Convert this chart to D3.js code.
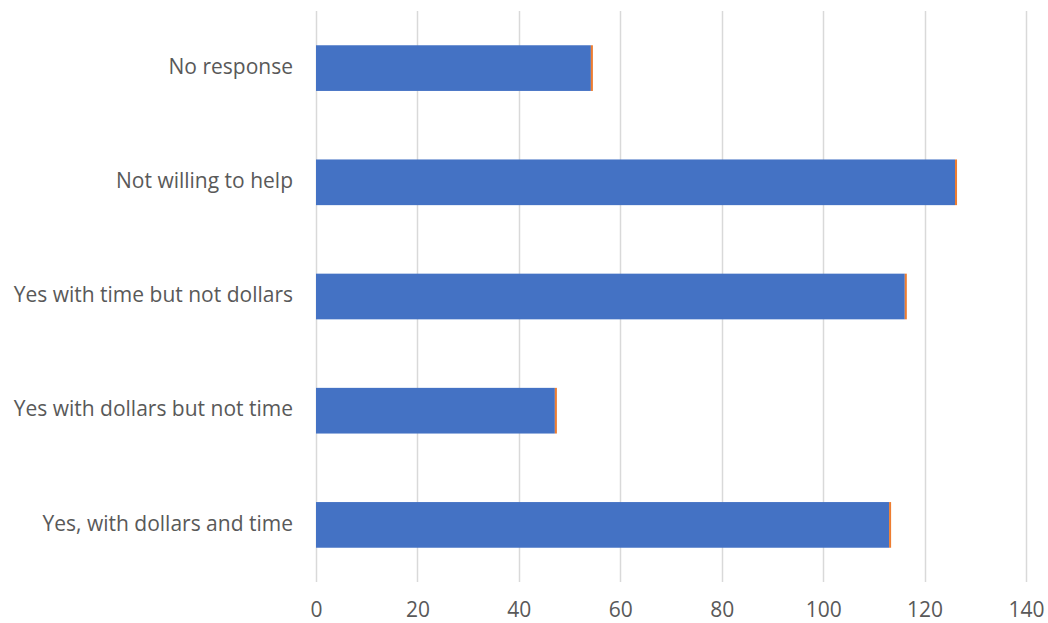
<!DOCTYPE html>
<html>
<head>
<meta charset="utf-8">
<script src="https://cdn.jsdelivr.net/npm/d3@7"></script>
<style>
  html, body { margin: 0; padding: 0; background: #fff; }
  svg { display: block; }
  text { font-family: "Open Sans", "Noto Sans", sans-serif; fill: #595959; }
</style>
</head>
<body>
<svg id="chart" width="1048" height="623"></svg>
<script>
const categories = [
  "No response",
  "Not willing to help",
  "Yes with time but not dollars",
  "Yes with dollars but not time",
  "Yes, with dollars and time"
];
const seriesA = [54.2, 126, 116.1, 47.1, 113];
const seriesB = [0.4, 0.4, 0.4, 0.4, 0.4];
const tickValues = [0, 20, 40, 60, 80, 100, 120, 140];
const seriesColors = ["#4472c4", "#ed7d31"];

const W = 1048, H = 623;
const margin = { top: 11, right: 22, bottom: 41, left: 316 };

const svg = d3.select("#chart");

const x = d3.scaleLinear().domain([0, 140]).range([margin.left, W - margin.right]);
const y = d3.scaleBand().domain(categories)
  .range([margin.top, H - margin.bottom])
  .paddingInner(0.6).paddingOuter(0.3);

// gridlines
svg.append("g").selectAll("line").data(tickValues).join("line")
  .attr("x1", d => Math.round(x(d)) + 0.5)
  .attr("x2", d => Math.round(x(d)) + 0.5)
  .attr("y1", margin.top)
  .attr("y2", H - margin.bottom)
  .attr("stroke", "#d9d9d9")
  .attr("stroke-width", 1.5);

const table = categories.map((c, i) => ({ cat: c, a: seriesA[i], b: seriesB[i] }));
const stacked = d3.stack().keys(["a", "b"])(table);

svg.append("g").selectAll("g").data(stacked).join("g")
  .attr("fill", (d, i) => seriesColors[i])
  .selectAll("rect").data(d => d).join("rect")
  .attr("x", d => x(d[0]))
  .attr("width", d => Math.max(0, x(d[1]) - x(d[0])))
  .attr("y", d => y(d.data.cat))
  .attr("height", y.bandwidth());

// category labels
const yAxis = svg.append("g")
  .attr("transform", `translate(${margin.left},-1)`)
  .call(d3.axisLeft(y).tickSize(0).tickPadding(23));
yAxis.select(".domain").remove();
yAxis.selectAll("text")
  .style("font-size", "21px")
  .style("font-family", "'Open Sans', sans-serif")
  .attr("fill", "#595959");

// x tick labels
const xAxis = svg.append("g")
  .attr("transform", `translate(0,${H - margin.bottom})`)
  .call(d3.axisBottom(x).tickValues(tickValues).tickSize(0).tickPadding(20));
xAxis.select(".domain").remove();
xAxis.selectAll("text")
  .style("font-size", "21px")
  .style("font-family", "'Open Sans', sans-serif")
  .attr("fill", "#595959");
</script>
</body>
</html>
